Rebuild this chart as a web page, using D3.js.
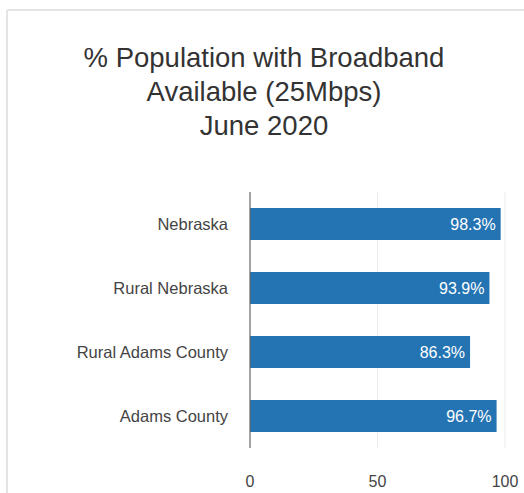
<!DOCTYPE html>
<html>
<head>
<meta charset="utf-8">
<script src="https://cdn.jsdelivr.net/npm/d3@7"></script>
<style>
  body { margin: 0; background: #fff; }
  text { font-family: "Liberation Sans", Arial, sans-serif; }
</style>
</head>
<body>
<div id="chart"></div>
<script>
var titleLines = ["% Population with Broadband", "Available (25Mbps)", "June 2020"];
var categories = ["Nebraska", "Rural Nebraska", "Rural Adams County", "Adams County"];
var values = [98.3, 93.9, 86.3, 96.7];
var ticks = [0, 50, 100];

var width = 524, height = 493;
var svg = d3.select("#chart").append("svg")
    .attr("width", width)
    .attr("height", height);

// card border (top and left only visible in the crop)
svg.append("line").attr("x1", 7).attr("x2", width).attr("y1", 10).attr("y2", 10)
    .attr("stroke", "#e4e4e4").attr("stroke-width", 2);
svg.append("line").attr("x1", 7).attr("x2", 7).attr("y1", 10).attr("y2", height)
    .attr("stroke", "#e4e4e4").attr("stroke-width", 2);

// title
svg.append("g").selectAll("text")
    .data(titleLines)
    .enter().append("text")
    .attr("x", 264)
    .attr("y", function(d, i){ return 67 + i * 34; })
    .attr("text-anchor", "middle")
    .style("font-size", "27.5px")
    .style("fill", "#333")
    .text(function(d){ return d; });

var plotLeft = 250, plotRight = 505, plotTop = 192, plotBottom = 448;

var x = d3.scaleLinear().domain([0, 100]).range([plotLeft, plotRight]);
var y = d3.scaleBand().domain(categories).range([plotTop, plotBottom])
    .paddingInner(0.5).paddingOuter(0.25);

// gridlines
svg.append("g").selectAll("line")
    .data(ticks.filter(function(t){ return t > 0; }))
    .enter().append("line")
    .attr("x1", function(d){ return x(d); })
    .attr("x2", function(d){ return x(d); })
    .attr("y1", plotTop)
    .attr("y2", plotBottom)
    .attr("stroke", "#ebebeb")
    .attr("stroke-width", 1);

// bars
svg.append("g").selectAll("rect")
    .data(values)
    .enter().append("rect")
    .attr("x", x(0))
    .attr("y", function(d, i){ return y(categories[i]); })
    .attr("width", function(d){ return x(d) - x(0); })
    .attr("height", y.bandwidth())
    .attr("fill", "#2474b4");

// value labels
svg.append("g").selectAll("text")
    .data(values)
    .enter().append("text")
    .attr("x", function(d){ return x(d) - 5; })
    .attr("y", function(d, i){ return y(categories[i]) + y.bandwidth() / 2; })
    .attr("dy", "0.35em")
    .attr("text-anchor", "end")
    .style("font-size", "16px")
    .style("fill", "#fff")
    .text(function(d){ return d.toFixed(1) + "%"; });

// y axis line
svg.append("line")
    .attr("x1", x(0)).attr("x2", x(0))
    .attr("y1", plotTop).attr("y2", plotBottom)
    .attr("stroke", "#666").attr("stroke-width", 1.2);

// category labels
svg.append("g").selectAll("text")
    .data(categories)
    .enter().append("text")
    .attr("x", 228)
    .attr("y", function(d){ return y(d) + y.bandwidth() / 2; })
    .attr("dy", "0.35em")
    .attr("text-anchor", "end")
    .style("font-size", "16.5px")
    .style("fill", "#444")
    .text(function(d){ return d; });

// x tick labels
svg.append("g").selectAll("text")
    .data(ticks)
    .enter().append("text")
    .attr("x", function(d){ return x(d); })
    .attr("y", 481)
    .attr("dy", "0.35em")
    .attr("text-anchor", "middle")
    .style("font-size", "16px")
    .style("fill", "#444")
    .text(function(d){ return d; });
</script>
</body>
</html>
